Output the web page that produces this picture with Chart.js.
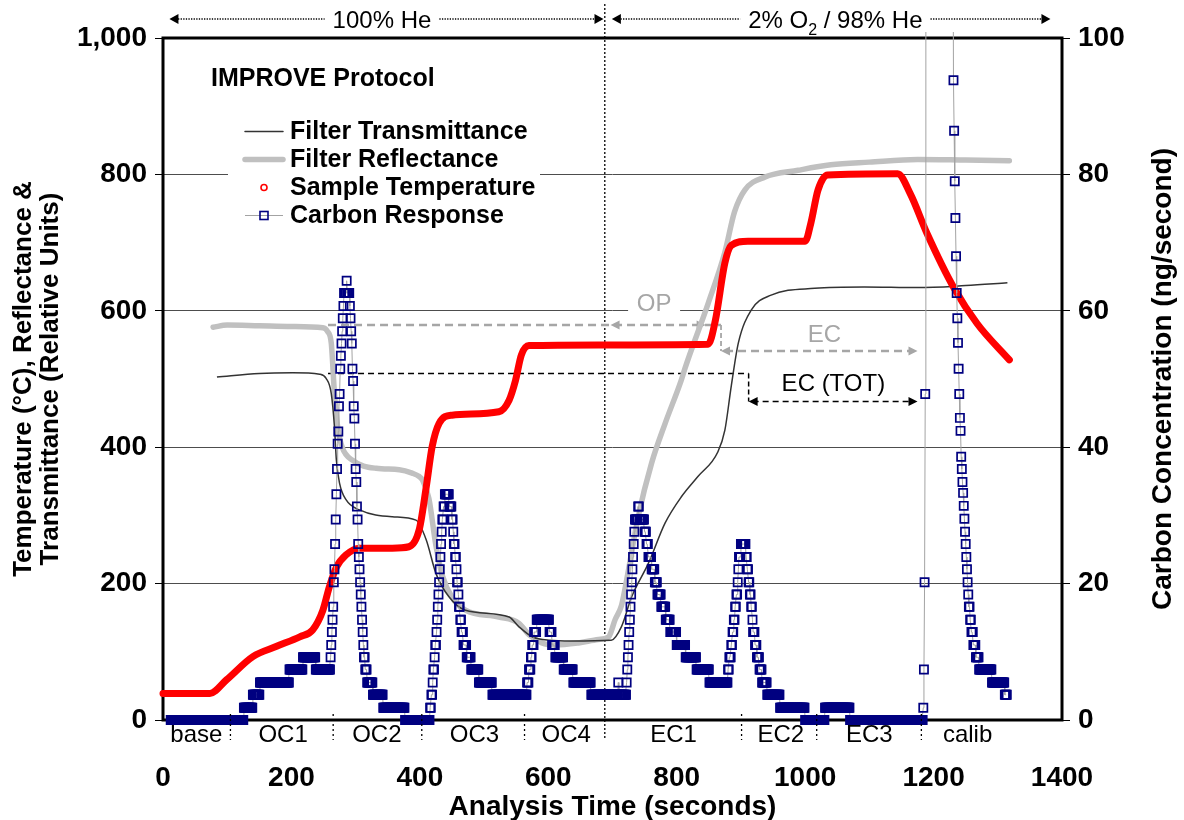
<!DOCTYPE html>
<html>
<head>
<meta charset="utf-8">
<script src="https://cdn.jsdelivr.net/npm/chart.js@4.4.1/dist/chart.umd.min.js"></script>
<style>
  html, body { margin: 0; padding: 0; background: #fff; }
  #wrap { width: 1184px; height: 820px; }
</style>
</head>
<body>
<div id="wrap"><canvas id="chart" width="1184" height="820"></canvas></div>
<script>
"use strict";

// ---- values ----
// Filter transmittance (left axis, relative units)
const transTime  = [84, 150, 202, 244, 254, 262, 267, 270, 275, 285, 306, 357, 394, 410, 425, 445, 471, 539, 554, 575,
                    601, 636, 698, 714, 730, 756, 782, 807, 833, 864, 875, 885, 896, 916, 947, 1015, 1092, 1175, 1250, 1315];
const transValue = [503, 508, 509, 507, 501, 479, 430, 381, 347, 323, 308, 298, 293, 264, 215, 181, 161, 151, 137, 122,
                    117, 116, 117, 137, 181, 230, 289, 327, 357, 393, 425, 490, 553, 601, 623, 633, 635, 634, 637, 641];

// Filter reflectance (left axis, relative units)
const reflTime  = [78, 100, 150, 200, 249, 256, 262, 267, 272, 279, 295, 332, 368, 388, 399, 404, 414, 425, 435, 450,
                   471, 523, 554, 570, 590, 611, 647, 678, 694, 704, 714, 720, 740, 761, 782, 807, 813, 849, 875, 890,
                   906, 937, 989, 1040, 1100, 1175, 1250, 1318];
const reflValue = [576, 579, 578, 577, 575, 570, 553, 479, 430, 400, 381, 369, 367, 362, 357, 352, 325, 256, 212, 180,
                   161, 151, 142, 125, 113, 110, 113, 118, 122, 147, 168, 195, 298, 377, 435, 498, 516, 611, 686, 745,
                   777, 796, 806, 814, 818, 822, 821, 820];

// Sample temperature (left axis, deg C)
const tempTime  = [0, 73, 99, 140, 177, 213, 233, 249, 259, 270, 285, 306, 357, 383, 399, 410, 419, 430, 450, 523,
                   539, 549, 558, 570, 678, 849, 860, 875, 885, 911, 1000, 1009, 1020, 1035, 1144, 1164, 1190, 1232, 1268, 1318];
const tempValue = [39, 39, 59, 93, 108, 122, 132, 161, 195, 224, 242, 252, 252, 254, 279, 342, 400, 435, 447, 452,
                   469, 498, 535, 549, 550, 551, 585, 670, 696, 702, 702, 729, 777, 799, 801, 771, 713, 633, 581, 528];

// Carbon response (right axis, ng/s), one sample per second.
// [t, value] is one sample, [t0, t1, value] is a run of equal samples.
const carbonRuns = [
  [12, 125, 0], [126, 139, 1.8], [140, 150, 3.7], [151, 196, 5.5], [197, 217, 7.4], [218, 237, 9.2], [238, 260, 7.4],
  // OC1 peak
  [261, 9.2], [262, 11.0], [263, 12.9], [264, 14.7], [265, 16.6], [266, 20.2], [267, 22.1], [268, 25.8], [269, 29.4],
  [270, 33.1], [271, 36.8], [272, 40.5], [273, 42.3], [274, 46.0], [275, 47.8], [276, 51.5], [277, 53.4], [278, 55.2],
  [279, 57.0], [280, 58.9], [281, 60.7], [282, 285, 62.6], [286, 64.4], [287, 290, 62.6], [291, 60.7], [292, 58.9],
  [293, 57.0], [294, 55.2], [295, 51.5], [296, 49.7], [297, 46.0], [298, 44.2], [299, 40.5], [300, 36.8], [301, 34.9],
  [302, 31.3], [303, 29.4], [304, 25.8], [305, 23.9], [306, 22.1], [307, 20.2], [308, 18.4], [309, 16.6], [310, 14.7],
  [311, 12.9], [312, 11.0], [313, 314, 9.2], [315, 317, 7.4], [318, 326, 5.5], [327, 342, 3.7], [343, 376, 1.8],
  [377, 415, 0],
  // OC2 / OC3 peak
  [416, 417, 1.8], [418, 419, 3.7], [420, 5.5], [421, 422, 7.4], [423, 9.2], [424, 425, 11.0], [426, 12.9], [427, 14.7],
  [428, 16.6], [429, 18.4], [430, 20.2], [431, 22.1], [432, 23.9], [433, 25.8], [434, 27.6], [435, 436, 29.4],
  [437, 438, 31.3], [439, 445, 33.1], [446, 449, 31.3], [450, 451, 29.4], [452, 27.6], [453, 454, 25.8], [455, 456, 23.9],
  [457, 22.1], [458, 459, 20.2], [460, 18.4], [461, 462, 16.6], [463, 464, 14.7], [465, 467, 12.9], [468, 472, 11.0],
  [473, 479, 9.2], [480, 491, 7.4], [492, 512, 5.5], [513, 566, 3.7],
  // OC4 peak
  [567, 569, 5.5], [570, 572, 7.4], [573, 574, 9.2], [575, 577, 11.0], [578, 581, 12.9], [582, 601, 14.7], [602, 605, 12.9],
  [606, 610, 11.0], [611, 623, 9.2], [624, 638, 7.4], [639, 666, 5.5], [667, 708, 3.7], [709, 5.5], [710, 721, 3.7], [722, 5.5],
  // EC1 peak
  [723, 7.4], [724, 9.2], [725, 11.0], [726, 12.9], [727, 14.7], [728, 16.6], [729, 18.4], [730, 20.2], [731, 22.1],
  [732, 23.9], [733, 25.8], [734, 27.6], [735, 739, 29.4], [740, 741, 31.3], [742, 749, 29.4], [750, 752, 27.6],
  [753, 755, 25.8], [756, 760, 23.9], [761, 765, 22.1], [766, 769, 20.2], [770, 775, 18.4], [776, 782, 16.6],
  [783, 789, 14.7], [790, 799, 12.9], [800, 813, 11.0], [814, 830, 9.2], [831, 850, 7.4], [851, 879, 5.5],
  // EC2 peak, EC3
  [880, 881, 7.4], [882, 884, 9.2], [885, 886, 11.0], [887, 888, 12.9], [889, 890, 14.7], [891, 892, 16.6], [893, 894, 18.4],
  [895, 20.2], [896, 22.1], [897, 899, 23.9], [900, 907, 25.8], [908, 909, 23.9], [910, 911, 22.1], [912, 913, 20.2],
  [914, 915, 18.4], [916, 917, 16.6], [918, 14.7], [919, 921, 12.9], [922, 924, 11.0], [925, 928, 9.2], [929, 932, 7.4],
  [933, 940, 5.5], [941, 960, 3.7], [961, 999, 1.8], [1000, 1030, 0], [1031, 1069, 1.8], [1070, 1183, 0],
  // calibration peak (top of it is off scale)
  [1184, 1.8], [1185, 7.4], [1186, 20.2], [1187, 47.8], [1188, 170], [1195, 300], [1205, 280], [1215, 220], [1225, 160],
  [1230, 125], [1231, 93.8], [1232, 86.4], [1233, 79.0], [1234, 73.6], [1235, 68.0], [1236, 62.6], [1237, 58.9],
  [1238, 55.3], [1239, 51.5], [1240, 47.8], [1241, 44.3], [1242, 42.4], [1243, 38.6], [1244, 36.8], [1245, 34.9],
  [1246, 33.3], [1247, 31.4], [1248, 29.5], [1249, 27.6], [1250, 25.8], [1251, 23.9], [1252, 22.1], [1253, 20.2],
  [1254, 18.4], [1255, 1256, 16.6], [1257, 1258, 14.7], [1259, 1261, 12.9], [1262, 1265, 11.0], [1266, 1270, 9.2],
  [1271, 1290, 7.4], [1291, 1310, 5.5], [1311, 1314, 3.7]
];

// analysis phases below the time axis
const phaseNames = ['base', 'OC1', 'OC2', 'OC3', 'OC4', 'EC1', 'EC2', 'EC3', 'calib'];
const phaseLabelTime = [52, 187, 333, 485, 628, 795, 962, 1100, 1253];
const phaseBounds = [105, 265, 403, 563, 901, 1018, 1181];
const gasSwitchTime = 688;

// carrier gas arrows above the plot: [from, to, label centre]
const heliumSpan = [10, 686, 341];
const oxygenSpan = [699, 1382, 1047];

// split point markers (left axis units)
const opLevel = 579, ecLevel = 541, totLevel = 508, ecTotLevel = 467;
const opStart = 257, opArrow = [697, 845], ecSplit = 869, totSplit = 912, ecEnd = 1175;

const FONT = '"Liberation Sans", Arial, Helvetica, sans-serif';

function toPoints(times, values) {
    return times.map((t, i) => ({x: t, y: values[i]}));
}

function expandRuns(runs) {
    let pts = [];
    for (let r of runs) {
        let [t0, t1, v] = r.length === 2 ? [r[0], r[0], r[1]] : r;
        for (let t = t0; t <= t1; t++) pts.push({x: t, y: v});
    }
    return pts;
}

function arrowHead(ctx, x, y, dir, color, len, half) {
    ctx.fillStyle = color;
    ctx.beginPath();
    ctx.moveTo(x, y);
    ctx.lineTo(x - dir * len, y - half);
    ctx.lineTo(x - dir * len, y + half);
    ctx.closePath();
    ctx.fill();
}

function line(ctx, x1, y1, x2, y2, color, width, dash) {
    ctx.save();
    ctx.strokeStyle = color;
    ctx.lineWidth = width;
    ctx.setLineDash(dash || []);
    ctx.beginPath();
    ctx.moveTo(x1, y1);
    ctx.lineTo(x2, y2);
    ctx.stroke();
    ctx.restore();
}

// text pieces, some as subscripts, drawn centred at cx; returns the left and right ends
function drawPieces(ctx, pieces, cx, y, size) {
    let widths = pieces.map(p => {
        ctx.font = (p.sub ? Math.round(size * 0.68) : size) + 'px ' + FONT;
        return ctx.measureText(p.t).width;
    });
    let total = widths.reduce((a, b) => a + b, 0);
    let x = cx - total / 2;
    pieces.forEach((p, i) => {
        ctx.font = (p.sub ? Math.round(size * 0.68) : size) + 'px ' + FONT;
        ctx.fillText(p.t, x, p.sub ? y + size * 0.28 : y);
        x += widths[i];
    });
    return [cx - total / 2, cx + total / 2];
}

const overlay = {
    id: 'overlay',
    beforeDatasetsDraw(chart) {
        const {ctx, chartArea: ca, scales} = chart;
        const xs = scales.x, yl = scales.y;
        const X = v => xs.getPixelForValue(v);
        const Y = v => yl.getPixelForValue(v);
        ctx.save();

        // He / O2 switch line
        line(ctx, X(gasSwitchTime), 4, X(gasSwitchTime), 740, '#000', 1.3, [2, 2]);

        // legend block
        ctx.fillStyle = '#fff';
        ctx.fillRect(ca.left + 65, ca.top + 79, 312, 113);
        ctx.fillStyle = '#000';
        ctx.textBaseline = 'alphabetic';
        ctx.textAlign = 'left';
        ctx.font = 'bold 25px ' + FONT;
        ctx.fillText('IMPROVE Protocol', ca.left + 48, ca.top + 48);
        const ds = chart.data.datasets;
        const order = [2, 3, 1, 0];
        const lx1 = ca.left + 82, lx2 = ca.left + 120, tx = ca.left + 127;
        order.forEach((di, i) => {
            const d = ds[di];
            const ly = ca.top + 93.5 + i * 28;
            if (di === 0) {
                line(ctx, lx1, ly, lx2, ly, d.borderColor, 1);
                ctx.strokeStyle = d.pointBorderColor;
                ctx.lineWidth = 1.6;
                ctx.strokeRect((lx1 + lx2) / 2 - 4, ly - 4, 8, 8);
            } else if (di === 1) {
                ctx.strokeStyle = d.borderColor;
                ctx.lineWidth = 1.6;
                ctx.beginPath();
                ctx.arc((lx1 + lx2) / 2, ly, 3, 0, Math.PI * 2);
                ctx.stroke();
            } else {
                ctx.save();
                ctx.lineCap = 'round';
                line(ctx, lx1, ly, lx2, ly, d.borderColor, d.borderWidth);
                ctx.restore();
            }
            ctx.fillStyle = '#000';
            ctx.font = 'bold 25px ' + FONT;
            ctx.textBaseline = 'middle';
            ctx.fillText(d.label, tx, ly + 1);
        });

        // OP / EC split (reflectance)
        const gray = '#a6a6a6';
        line(ctx, X(opStart), Y(opLevel), X(ecSplit), Y(opLevel), gray, 2.5, [8, 5]);
        arrowHead(ctx, X(opArrow[0]), Y(opLevel), -1, gray, 9, 4.5);
        arrowHead(ctx, X(opArrow[1]), Y(opLevel), 1, gray, 9, 4.5);
        line(ctx, X(ecSplit), Y(opLevel), X(ecSplit), Y(ecLevel), gray, 1.8, [5, 3]);
        line(ctx, X(ecSplit) + 4, Y(ecLevel), X(ecEnd) - 4, Y(ecLevel), gray, 2.5, [8, 5]);
        arrowHead(ctx, X(ecSplit), Y(ecLevel), -1, gray, 9, 4.5);
        arrowHead(ctx, X(ecEnd), Y(ecLevel), 1, gray, 9, 4.5);

        ctx.font = '24px ' + FONT;
        ctx.textAlign = 'center';
        ctx.textBaseline = 'middle';
        const opX = (X(opArrow[0]) + X(opArrow[1])) / 2 - 4;
        ctx.fillStyle = '#fff';
        ctx.fillRect(opX - 26, Y(609) - 13, 52, 24);
        ctx.fillStyle = gray;
        ctx.fillText('OP', opX, Y(609));
        ctx.fillText('EC', X(1030), Y(564));

        // EC (TOT) split (transmittance)
        line(ctx, X(opStart), Y(totLevel), X(totSplit), Y(totLevel), '#000', 1.5, [6, 4]);
        line(ctx, X(totSplit), Y(totLevel), X(totSplit), Y(ecTotLevel), '#000', 1.5, [5, 3]);
        line(ctx, X(totSplit) + 4, Y(ecTotLevel), X(ecEnd) - 4, Y(ecTotLevel), '#000', 1.5, [6, 4]);
        arrowHead(ctx, X(totSplit), Y(ecTotLevel), -1, '#000', 9, 4.5);
        arrowHead(ctx, X(ecEnd), Y(ecTotLevel), 1, '#000', 9, 4.5);
        ctx.fillStyle = '#000';
        ctx.fillText('EC (TOT)', X(1044), Y(492));

        // frame of the plot
        ctx.strokeStyle = '#000';
        ctx.lineWidth = 3;
        ctx.setLineDash([]);
        ctx.strokeRect(ca.left, ca.top, ca.width, ca.height);
        ctx.restore();
    },
    afterDraw(chart) {
        const {ctx, chartArea: ca, scales} = chart;
        const X = v => scales.x.getPixelForValue(v);
        ctx.save();
        ctx.fillStyle = '#000';

        // phase names and their boundaries
        ctx.font = '24px ' + FONT;
        ctx.textAlign = 'center';
        ctx.textBaseline = 'alphabetic';
        phaseNames.forEach((n, i) => ctx.fillText(n, X(phaseLabelTime[i]), 742));
        phaseBounds.forEach(t => line(ctx, X(t), 714, X(t), 740, '#000', 1.3, [2, 3]));

        // carrier gas arrows
        const ay = 19;
        ctx.textAlign = 'left';
        let [a, b] = drawPieces(ctx, [{t: '100% He'}], X(heliumSpan[2]), 28, 24);
        line(ctx, X(heliumSpan[0]) + 6, ay, a - 8, ay, '#000', 1.3, [1.3, 1.3]);
        line(ctx, b + 8, ay, X(heliumSpan[1]) - 6, ay, '#000', 1.3, [1.3, 1.3]);
        arrowHead(ctx, X(heliumSpan[0]), ay, -1, '#000', 9, 5);
        arrowHead(ctx, X(heliumSpan[1]), ay, 1, '#000', 9, 5);
        [a, b] = drawPieces(ctx, [{t: '2% O'}, {t: '2', sub: true}, {t: ' / 98% He'}], X(oxygenSpan[2]), 28, 24);
        line(ctx, X(oxygenSpan[0]) + 6, ay, a - 8, ay, '#000', 1.3, [1.3, 1.3]);
        line(ctx, b + 8, ay, X(oxygenSpan[1]) - 6, ay, '#000', 1.3, [1.3, 1.3]);
        arrowHead(ctx, X(oxygenSpan[0]), ay, -1, '#000', 9, 5);
        arrowHead(ctx, X(oxygenSpan[1]), ay, 1, '#000', 9, 5);

        // axis titles
        ctx.textAlign = 'center';
        ctx.textBaseline = 'alphabetic';
        ctx.font = 'bold 28px ' + FONT;
        ctx.fillText('Analysis Time (seconds)', (ca.left + ca.right) / 2, 815);
        const midY = (ca.top + ca.bottom) / 2;
        ctx.save();
        ctx.translate(24, midY);
        ctx.rotate(-Math.PI / 2);
        ctx.textBaseline = 'middle';
        ctx.font = 'bold 26px ' + FONT;
        ctx.fillText('Temperature (\u00B0C), Reflectance &', 0, 0);
        ctx.fillText('Transmittance (Relative Units)', 0, 27);
        ctx.restore();
        ctx.save();
        ctx.translate(1163, midY);
        ctx.rotate(-Math.PI / 2);
        ctx.textBaseline = 'middle';
        ctx.font = 'bold 28px ' + FONT;
        ctx.fillText('Carbon Concentration (ng/second)', 0, 0);
        ctx.restore();
        ctx.restore();
    }
};

const edgeClip = {left: 10, top: 6, right: 10, bottom: 10};

new Chart(document.getElementById('chart'), {
    type: 'scatter',
    data: {
        datasets: [
            {
                label: 'Carbon Response',
                data: expandRuns(carbonRuns),
                yAxisID: 'y2',
                showLine: true,
                borderColor: '#a3a3a3',
                borderWidth: 1,
                pointStyle: 'rect',
                pointRadius: 5.8,
                pointBorderWidth: 1.7,
                pointBorderColor: '#000080',
                pointBackgroundColor: 'rgba(0,0,0,0)',
                clip: edgeClip
            },
            {
                label: 'Sample Temperature',
                data: toPoints(tempTime, tempValue),
                yAxisID: 'y',
                showLine: true,
                borderColor: '#ff0000',
                borderWidth: 7,
                borderCapStyle: 'round',
                borderJoinStyle: 'round',
                cubicInterpolationMode: 'monotone',
                pointRadius: 0,
                clip: edgeClip
            },
            {
                label: 'Filter Transmittance',
                data: toPoints(transTime, transValue),
                yAxisID: 'y',
                showLine: true,
                borderColor: '#333333',
                borderWidth: 1.5,
                cubicInterpolationMode: 'monotone',
                pointRadius: 0,
                clip: edgeClip
            },
            {
                label: 'Filter Reflectance',
                data: toPoints(reflTime, reflValue),
                yAxisID: 'y',
                showLine: true,
                borderColor: '#c0c0c0',
                borderWidth: 5.5,
                borderCapStyle: 'round',
                cubicInterpolationMode: 'monotone',
                pointRadius: 0,
                clip: edgeClip
            }
        ]
    },
    options: {
        responsive: false,
        animation: false,
        events: [],
        layout: {padding: {top: 38, left: 0, right: 0, bottom: 0}},
        plugins: {legend: {display: false}, tooltip: {enabled: false}},
        scales: {
            x: {
                type: 'linear',
                min: 0, max: 1400,
                ticks: {
                    stepSize: 200, color: '#000', padding: 41,
                    font: {family: FONT, size: 28, weight: 'bold'},
                    callback: v => String(v)
                },
                grid: {display: false, drawTicks: false},
                border: {display: false},
                afterFit(s) { s.height = 100; }
            },
            y: {
                position: 'left',
                min: 0, max: 1000,
                ticks: {
                    stepSize: 200, color: '#000', padding: 8,
                    font: {family: FONT, size: 28, weight: 'bold'},
                    callback: v => v.toLocaleString('en-US')
                },
                grid: {color: '#4d4d4d', lineWidth: 1, tickLength: 8, tickColor: '#000'},
                border: {display: false},
                afterFit(s) { s.width = 163; }
            },
            y2: {
                position: 'right',
                min: 0, max: 100,
                ticks: {stepSize: 20, color: '#000', padding: 8, font: {family: FONT, size: 28, weight: 'bold'}},
                grid: {drawOnChartArea: false, tickLength: 8, tickColor: '#000'},
                border: {display: false},
                afterFit(s) { s.width = 122; }
            }
        }
    },
    plugins: [overlay]
});
</script>
</body>
</html>
